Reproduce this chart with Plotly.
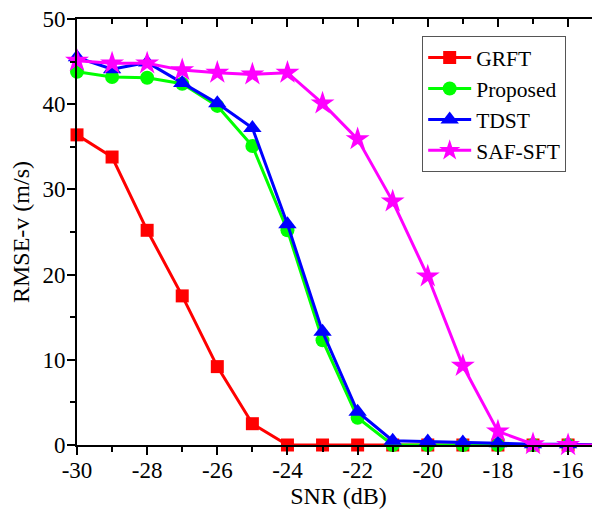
import plotly.graph_objects as go

snr = [-30, -29, -28, -27, -26, -25, -24, -23, -22, -21, -20, -19, -18, -17, -16, -15]
grft = [36.4, 33.8, 25.2, 17.5, 9.2, 2.5, 0.0, 0.0, 0.0, 0.0, 0.0, 0.0, 0.0, 0.0, 0.0, 0.0]
proposed = [43.8, 43.2, 43.1, 42.4, 39.8, 35.1, 25.2, 12.3, 3.2, 0.0, 0.0, 0.0, 0.0, 0.0, 0.0, 0.0]
tdst = [45.5, 44.1, 44.9, 42.5, 40.1, 37.2, 25.9, 13.3, 3.9, 0.5, 0.4, 0.3, 0.2, 0.1, 0.1, 0.0]
saf_sft = [45.1, 44.8, 44.8, 44.0, 43.7, 43.5, 43.7, 40.1, 35.9, 28.6, 19.8, 9.3, 1.6, 0.1, 0.0, 0.0]

x_major = [-30, -28, -26, -24, -22, -20, -18, -16]
x_labels = ["-30", "-28", "-26", "-24", "-22", "-20", "-18", "-16"]
x_minor = [-29, -27, -25, -23, -21, -19, -17, -15]
y_major = [0, 10, 20, 30, 40, 50]
y_minor = [5, 15, 25, 35, 45]

series = [
    ("GRFT", grft, "#FF0000", "square", 13),
    ("Proposed", proposed, "#00FF00", "circle", 14),
    ("TDST", tdst, "#0000FF", "triangle-up", 16),
    ("SAF-SFT", saf_sft, "#FF00FF", "star", 18),
]

FONT = "Liberation Serif, Times New Roman, serif"

fig = go.Figure()
for name, vals, col, sym, sz in series:
    fig.add_trace(go.Scatter(
        x=snr, y=vals, name=name, mode="lines+markers",
        line=dict(color=col, width=3),
        marker=dict(symbol=sym, size=sz, color=col, line=dict(width=0)),
        cliponaxis=False,
    ))

# invisible trace for mirrored (inward) top/right axes
fig.add_trace(go.Scatter(x=[snr[0]], y=[0], xaxis="x2", yaxis="y2",
                         mode="markers", marker=dict(opacity=0),
                         showlegend=False, hoverinfo="skip"))

xr = [-30, -15.09]
yr = [0, 50]

fig.update_layout(
    width=592, height=504,
    margin=dict(l=69, r=0, t=11, b=67),
    paper_bgcolor="white", plot_bgcolor="white",
    font=dict(family=FONT, size=23, color="black"),
    showlegend=True,
    legend=dict(
        x=0.66, y=0.96, xanchor="left", yanchor="top",
        bgcolor="white", bordercolor="#555555", borderwidth=1,
        font=dict(family=FONT, size=21.5, color="black"),
        itemwidth=43, tracegroupgap=0,
    ),
    xaxis=dict(
        range=xr, tickmode="array", tickvals=x_major, ticktext=x_labels,
        ticks="outside", ticklen=8, tickwidth=2, tickcolor="black",
        minor=dict(tickvals=x_minor, ticks="outside", ticklen=5, tickwidth=2, tickcolor="black"),
        showline=True, linewidth=2, linecolor="black",
        showgrid=False, zeroline=False, ticklabelstandoff=-5,
        ticklabeloverflow="allow",
        title=dict(text="SNR (dB)", font=dict(family=FONT, size=24), standoff=6),
        tickfont=dict(family=FONT, size=23),
    ),
    yaxis=dict(
        range=yr, tickmode="array", tickvals=y_major,
        ticks="outside", ticklen=8, tickwidth=2, tickcolor="black",
        minor=dict(tickvals=y_minor, ticks="outside", ticklen=5, tickwidth=2, tickcolor="black"),
        showline=True, linewidth=2, linecolor="black",
        showgrid=False, zeroline=False, ticklabelstandoff=-3,
        ticklabeloverflow="allow",
        title=dict(text="RMSE-v (m/s)", font=dict(family=FONT, size=24), standoff=6),
        tickfont=dict(family=FONT, size=23),
    ),
    xaxis2=dict(
        range=xr, overlaying="x", side="top", anchor="y2",
        tickmode="array", tickvals=x_major,
        ticks="inside", ticklen=8, tickwidth=2, tickcolor="black",
        minor=dict(tickvals=x_minor, ticks="inside", ticklen=5, tickwidth=2, tickcolor="black"),
        showticklabels=False, showline=True, linewidth=2, linecolor="black",
        showgrid=False, zeroline=False,
    ),
    yaxis2=dict(
        range=yr, overlaying="y", side="right", anchor="x2",
        tickmode="array", tickvals=y_major,
        ticks="inside", ticklen=8, tickwidth=2, tickcolor="black",
        showticklabels=False, showline=False,
        showgrid=False, zeroline=False,
    ),
)

fig.write_html("out.html")
